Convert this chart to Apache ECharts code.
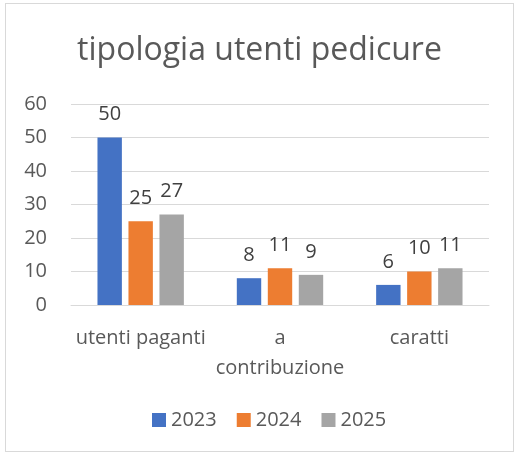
<!DOCTYPE html>
<html>
<head>
    <meta charset="utf-8">
    <title>tipologia utenti pedicure</title>
    <script src="https://cdn.jsdelivr.net/npm/echarts@6/dist/echarts.min.js"></script>
    <style>
        html, body { margin: 0; padding: 0; background: #fff; }
        #main { position: absolute; left: 5px; top: 3px; width: 509px; height: 449px;
                border: 1px solid #d9d9d9; box-sizing: border-box; }
    </style>
</head>
<body>
    <div id="main"></div>
    <script type="text/javascript">
// data
var categories = ['utenti paganti', 'a\ncontribuzione', 'caratti'];
var years = ['2023', '2024', '2025'];
var values2023 = [50, 8, 6];
var values2024 = [25, 11, 10];
var values2025 = [27, 9, 11];
var yTicks = [0, 10, 20, 30, 40, 50, 60];

var colors = ['#4472C4', '#ED7D31', '#A5A5A5'];
var font = '"Open Sans", "Noto Sans", sans-serif';

var myChart = echarts.init(document.getElementById('main'));

function makeSeries(name, data, color) {
    return {
        name: name,
        type: 'bar',
        data: data,
        barGap: '27%',
        barCategoryGap: '38%',
        itemStyle: { color: color },
        label: {
            show: true,
            position: 'top',
            distance: 13,
            color: '#404040',
            fontSize: 20,
            fontFamily: font
        }
    };
}

var option = {
    animation: false,
    title: {
        text: 'tipologia utenti pedicure',
        left: 'center',
        top: 26,
        textStyle: { color: '#595959', fontSize: 32, fontWeight: 'normal', fontFamily: font }
    },
    legend: {
        data: years,
        bottom: 16,
        left: 141,
        itemWidth: 14,
        itemHeight: 14,
        itemGap: 20,
        icon: 'rect',
        textStyle: { color: '#595959', fontSize: 20, fontFamily: font }
    },
    grid: { left: 65, right: 24, top: 100, bottom: 146 },
    xAxis: {
        type: 'category',
        data: categories,
        axisTick: { show: false },
        axisLine: { lineStyle: { color: '#d9d9d9', width: 1 } },
        axisLabel: { color: '#595959', fontSize: 20, fontFamily: font, margin: 18, lineHeight: 30, interval: 0 }
    },
    yAxis: {
        type: 'value',
        min: yTicks[0],
        max: yTicks[yTicks.length - 1],
        interval: 10,
        axisLine: { show: false },
        axisTick: { show: false },
        splitLine: { lineStyle: { color: '#d9d9d9', width: 1 } },
        axisLabel: { color: '#595959', fontSize: 20, fontFamily: font, margin: 24 }
    },
    series: [
        makeSeries(years[0], values2023, colors[0]),
        makeSeries(years[1], values2024, colors[1]),
        makeSeries(years[2], values2025, colors[2])
    ]
};

myChart.setOption(option);
    </script>
</body>
</html>
